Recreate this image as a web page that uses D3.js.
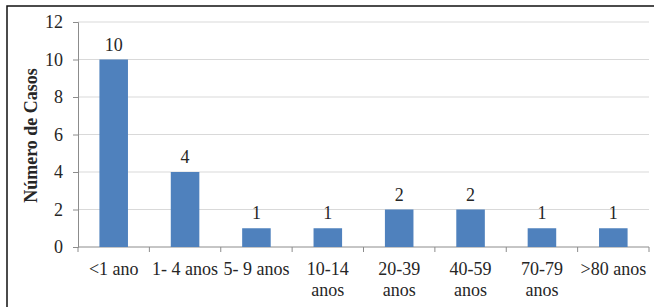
<!DOCTYPE html>
<html>
<head>
<meta charset="utf-8">
<script src="https://cdn.jsdelivr.net/npm/d3@7"></script>
<style>
  body { margin: 0; background: #fff; }
  text { font-family: "Liberation Serif", "Times New Roman", serif; fill: #262626; }
</style>
</head>
<body>
<svg id="chart" width="654" height="307"></svg>
<script>
// age groups (each entry = lines of the wrapped label)
const categories = ['<1 ano', '1- 4 anos', '5- 9 anos', '10-14 anos', '20-39 anos', '40-59 anos', '70-79 anos', '>80 anos'];
const labelLines = [['<1 ano'], ['1- 4 anos'], ['5- 9 anos'], ['10-14', 'anos'], ['20-39', 'anos'], ['40-59', 'anos'], ['70-79', 'anos'], ['>80 anos']];
const cases = [10, 4, 1, 1, 2, 2, 1, 1];
const yTicks = [0, 2, 4, 6, 8, 10, 12];

const svg = d3.select('#chart');
const margin = {left: 78, right: 5, top: 22, bottom: 60};
const width = 654, height = 307;
const innerW = width - margin.left - margin.right;
const innerH = height - margin.top - margin.bottom;
const fontSize = '18px';

// outer frame
svg.append('rect')
  .attr('x', 7).attr('y', 6)
  .attr('width', 660).attr('height', 320)
  .attr('fill', 'none')
  .attr('stroke', '#111')
  .attr('stroke-width', 1.5);

const g = svg.append('g')
  .attr('transform', `translate(${margin.left}, ${margin.top})`);

const x = d3.scaleBand()
  .domain(categories)
  .range([0, innerW])
  .paddingInner(0.6)
  .paddingOuter(0.3);

const y = d3.scaleLinear()
  .domain([0, 12])
  .range([innerH, 0]);

// gridlines
g.append('g')
  .selectAll('line')
  .data(yTicks.filter(d => d > 0))
  .enter()
  .append('line')
    .attr('x1', 0).attr('x2', innerW)
    .attr('y1', d => y(d)).attr('y2', d => y(d))
    .attr('stroke', '#d9d9d9')
    .attr('stroke-width', 1.2);

// y axis
const yAxis = d3.axisLeft(y)
  .tickValues(yTicks)
  .tickSize(5)
  .tickPadding(10);
const yAxisG = g.append('g').call(yAxis);
yAxisG.select('.domain').attr('stroke', '#8c8c8c');
yAxisG.selectAll('.tick line').attr('stroke', '#8c8c8c');
yAxisG.selectAll('.tick text')
  .style('font-size', fontSize)
  .style('font-family', '"Liberation Serif", serif')
  .attr('fill', '#262626');

// x axis line + boundary ticks
const bounds = d3.range(categories.length + 1).map(i => i * innerW / categories.length);
g.append('line')
  .attr('x1', 0).attr('x2', innerW)
  .attr('y1', innerH).attr('y2', innerH)
  .attr('stroke', '#8c8c8c');
g.append('g')
  .selectAll('line')
  .data(bounds)
  .enter()
  .append('line')
    .attr('x1', d => d).attr('x2', d => d)
    .attr('y1', innerH).attr('y2', innerH + 5)
    .attr('stroke', '#8c8c8c');

// x labels
const xLab = g.append('g')
  .selectAll('text')
  .data(categories)
  .enter()
  .append('text')
    .attr('text-anchor', 'middle')
    .attr('transform', d => `translate(${x(d) + x.bandwidth() / 2}, ${innerH + 28})`)
    .style('font-size', fontSize);
xLab.selectAll('tspan')
  .data((d, i) => labelLines[i])
  .enter()
  .append('tspan')
    .attr('x', 0)
    .attr('dy', (d, i) => i === 0 ? 0 : 21)
    .text(d => d);

// bars
g.selectAll('.bar')
  .data(cases)
  .enter()
  .append('rect')
    .attr('class', 'bar')
    .attr('x', (d, i) => x(categories[i]))
    .attr('y', d => y(d))
    .attr('width', x.bandwidth())
    .attr('height', d => innerH - y(d))
    .attr('fill', '#4f81bd');

// value labels
g.selectAll('.val')
  .data(cases)
  .enter()
  .append('text')
    .attr('class', 'val')
    .attr('text-anchor', 'middle')
    .attr('x', (d, i) => x(categories[i]) + x.bandwidth() / 2)
    .attr('y', d => y(d) - 9)
    .style('font-size', fontSize)
    .text(d => d);

// y title
svg.append('text')
  .attr('transform', `translate(37, ${margin.top + innerH / 2 + 1}) rotate(-90)`)
  .attr('text-anchor', 'middle')
  .style('font-size', fontSize)
  .style('font-weight', 'bold')
  .text('Número de Casos');
</script>
</body>
</html>
